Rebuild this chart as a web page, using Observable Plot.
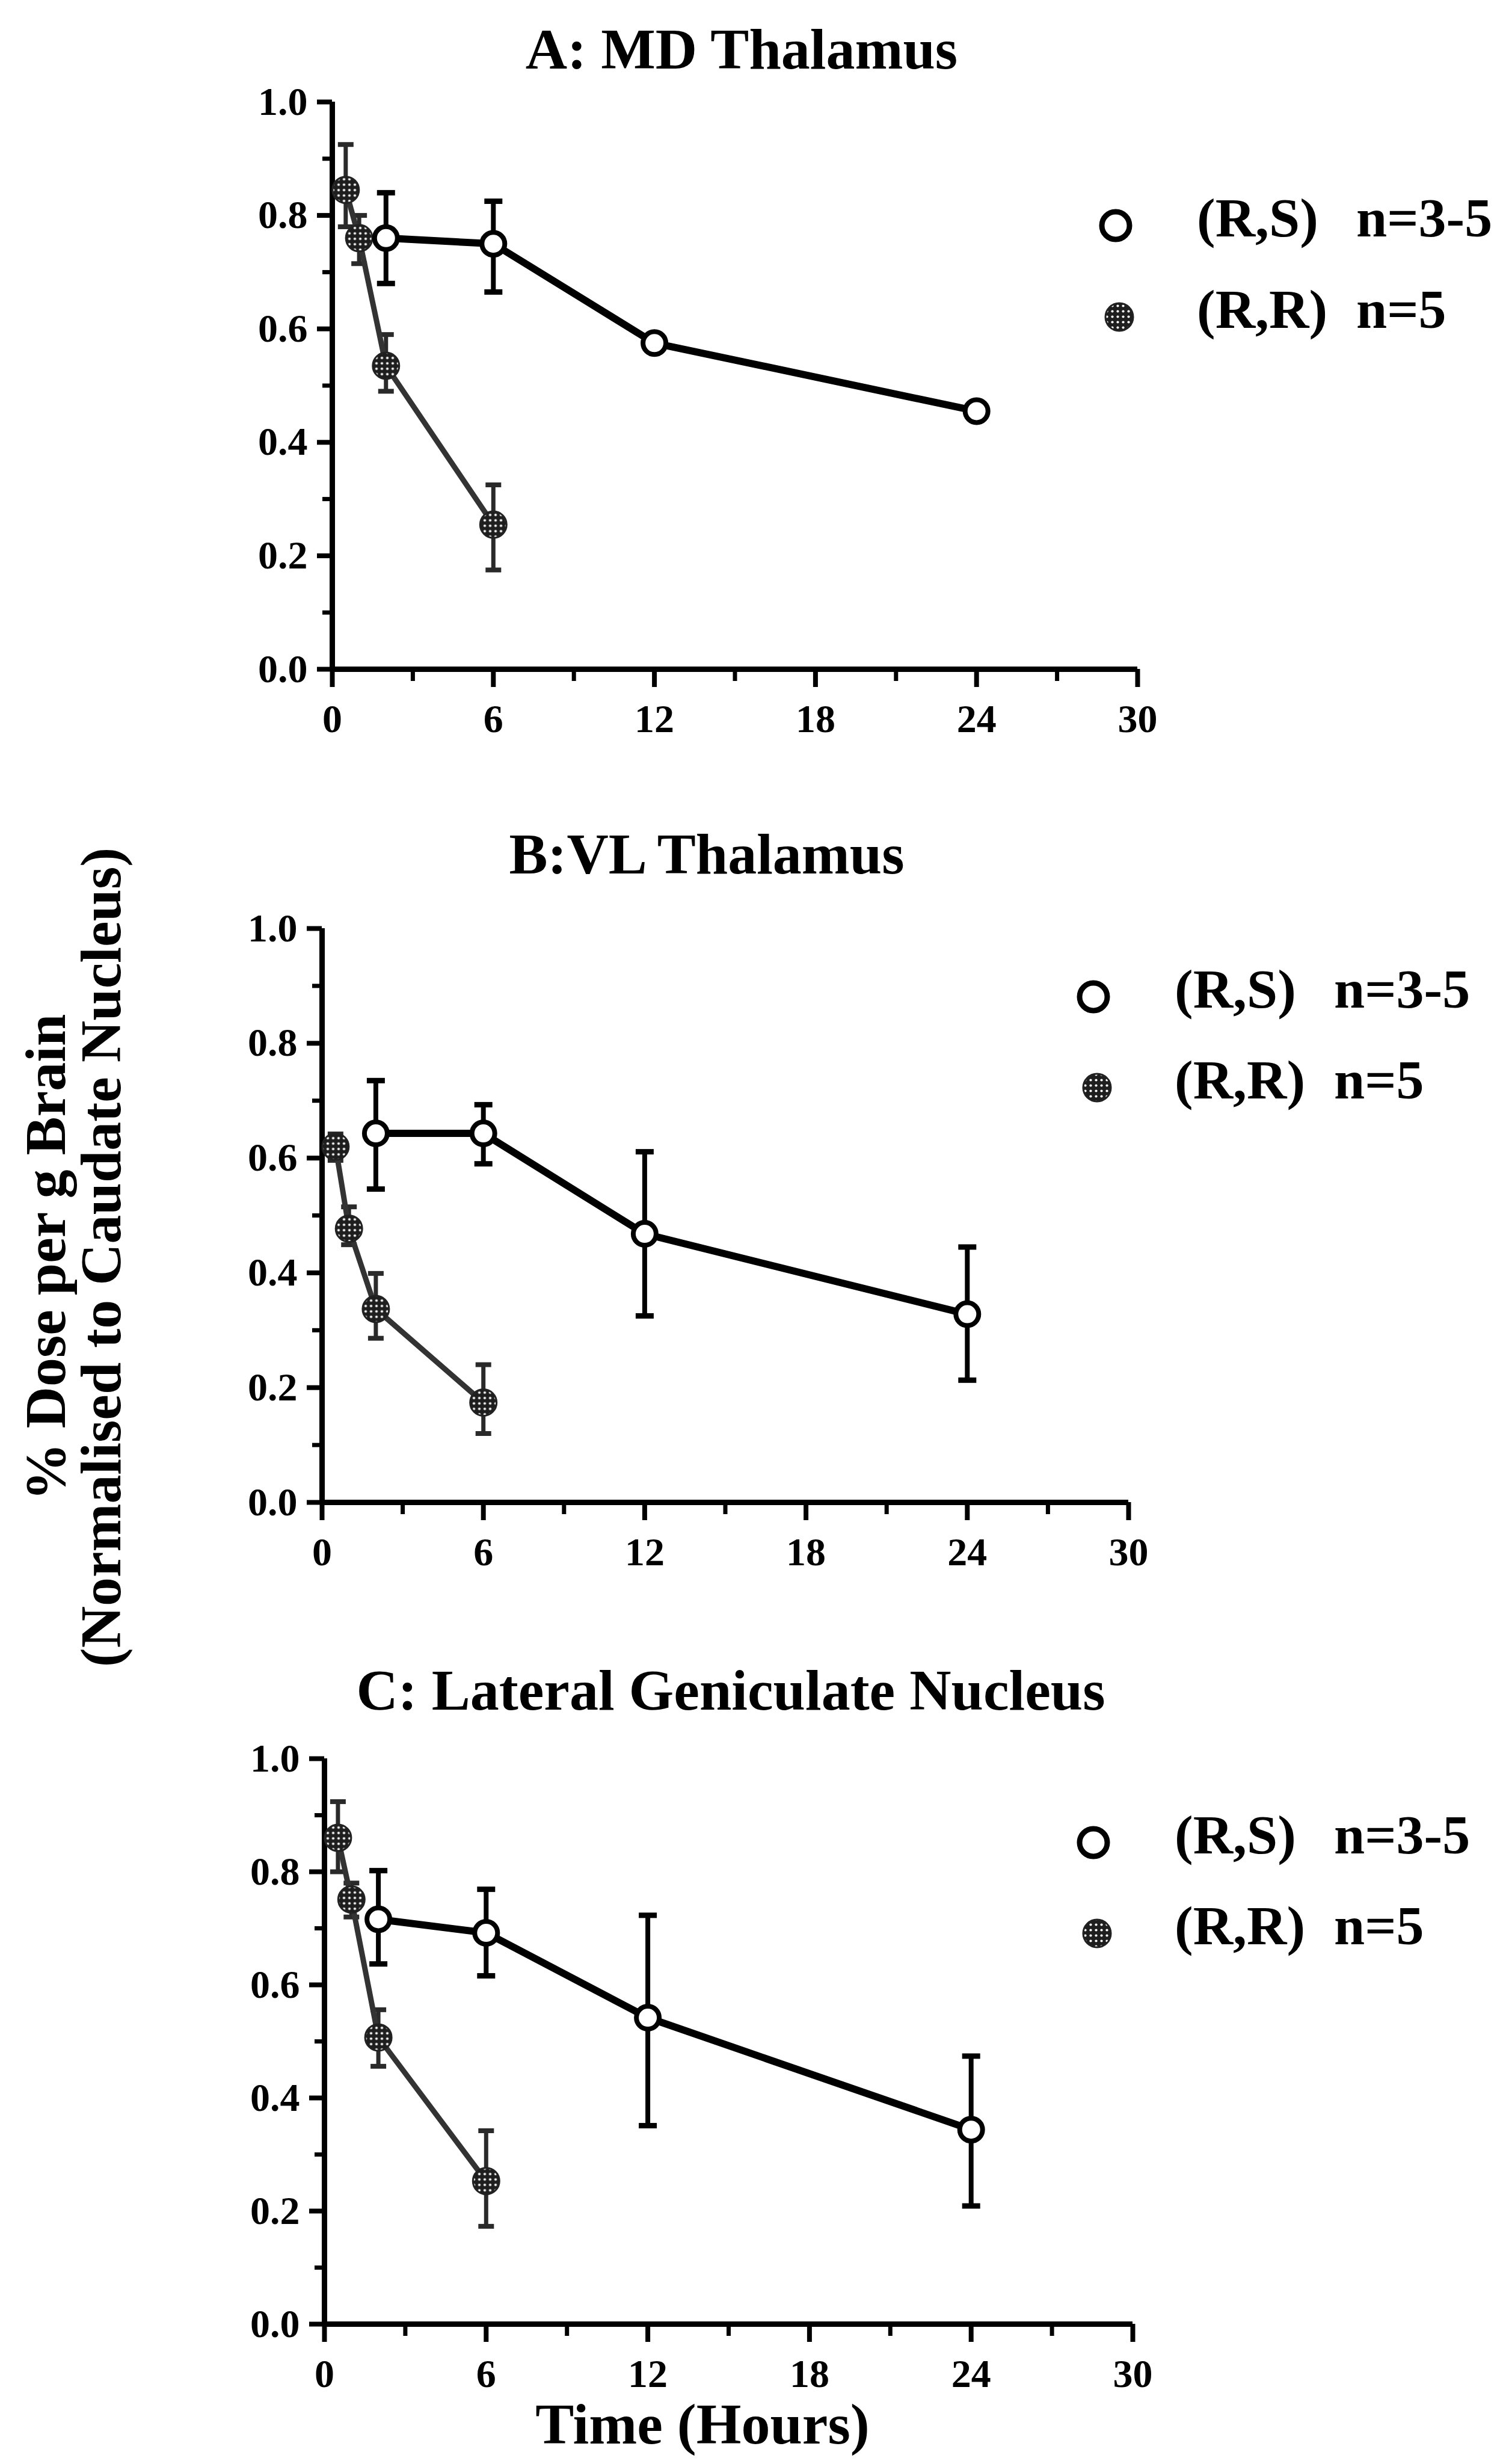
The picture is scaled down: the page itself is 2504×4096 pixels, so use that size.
<!DOCTYPE html>
<html><head><meta charset="utf-8">
<script src="https://cdn.jsdelivr.net/npm/d3@7"></script>
<script src="https://cdn.jsdelivr.net/npm/@observablehq/plot@0.6"></script>
<style>
html,body{margin:0;padding:0;background:#fff;}
#root{position:relative;width:2504px;height:4096px;overflow:hidden;background:#fff;}
#root > svg{position:absolute;left:0;margin:0;}
</style></head><body><div id="root"></div>
<script>
// ---------------- data ----------------
const hoursRS = [2, 6, 12, 24];
const hoursRR = [0.5, 1, 2, 6];

const A_RS_mean = [0.76, 0.75, 0.575, 0.455];
const A_RS_lo   = [0.68, 0.665, null, null];
const A_RS_hi   = [0.84, 0.825, null, null];
const A_RR_mean = [0.845, 0.76, 0.535, 0.255];
const A_RR_lo   = [0.78, 0.715, 0.49, 0.175];
const A_RR_hi   = [0.925, 0.80, 0.59, 0.325];

const B_RS_mean = [0.643, 0.643, 0.468, 0.328];
const B_RS_lo   = [0.546, 0.59, 0.325, 0.213];
const B_RS_hi   = [0.735, 0.693, 0.611, 0.445];
const B_RR_mean = [0.62, 0.477, 0.337, 0.174];
const B_RR_lo   = [0.596, 0.449, 0.286, 0.12];
const B_RR_hi   = [0.642, 0.515, 0.399, 0.24];

const C_RS_mean = [0.716, 0.692, 0.542, 0.344];
const C_RS_lo   = [0.637, 0.616, 0.351, 0.209];
const C_RS_hi   = [0.802, 0.769, 0.723, 0.474];
const C_RR_mean = [0.86, 0.751, 0.507, 0.253];
const C_RR_lo   = [0.80, 0.72, 0.456, 0.173];
const C_RR_hi   = [0.924, 0.78, 0.556, 0.342];

const panelTitles = ["A: MD Thalamus", "B:VL Thalamus", "C: Lateral Geniculate Nucleus"];
const seriesLabels = ["(R,S)", "(R,R)"];
const seriesN = ["n=3-5", "n=5"];
const xTicks = [0, 6, 12, 18, 24, 30];
const xMinorTicks = [3, 9, 15, 21, 27];
const yTicks = [0, 0.2, 0.4, 0.6, 0.8, 1.0];
const yMinorTicks = [0.1, 0.3, 0.5, 0.7, 0.9];
const xLabel = "Time (Hours)";
const yLabel1 = "% Dose per g Brain";
const yLabel2 = "(Normalised to Caudate Nucleus)";

// ---------------- layout ----------------
const FONT = '"Liberation Serif", "Times New Roman", serif';
const W = 2504, H = 4096;
const layouts = [
  {top: 140, mt: 29, mb: 150, plotH: 943, left: 552, right: 2504 - 1891,
   title: {x: 1233, y: 114}, leg: {x: 1855, y1: 375, y2: 527}},
  {top: 1500, mt: 43, mb: 150, plotH: 954, left: 535, right: 2504 - 1876,
   title: {x: 1175, y: 1452}, leg: {x: 1818, y1: 1657, y2: 1808}},
  {top: 2880, mt: 43, mb: 150, plotH: 940, left: 539, right: 2504 - 1883,
   title: {x: 1215, y: 2842}, leg: {x: 1818, y1: 3063, y2: 3214}}
];
const panelData = [
  {rs: [A_RS_mean, A_RS_lo, A_RS_hi], rr: [A_RR_mean, A_RR_lo, A_RR_hi]},
  {rs: [B_RS_mean, B_RS_lo, B_RS_hi], rr: [B_RR_mean, B_RR_lo, B_RR_hi]},
  {rs: [C_RS_mean, C_RS_lo, C_RS_hi], rr: [C_RR_mean, C_RR_lo, C_RR_hi]}
];

const root = document.getElementById("root");

// overlay svg (defs, titles, legends, axis labels)
const overlay = d3.create("svg").attr("width", W).attr("height", H)
  .style("position", "absolute").style("left", "0px").style("top", "0px")
  .style("font-family", FONT).style("font-weight", "bold");
const pat = overlay.append("defs").append("pattern").attr("id", "halftone")
  .attr("width", 9).attr("height", 9).attr("patternUnits", "userSpaceOnUse");
pat.append("rect").attr("width", 9).attr("height", 9).attr("fill", "#1e1e1e");
pat.append("circle").attr("cx", 4.5).attr("cy", 4.5).attr("r", 2.1).attr("fill", "#fff");

const capSymbol = {
  draw(ctx, size) {
    const r = Math.sqrt(size / Math.PI);
    ctx.moveTo(-r, 0); ctx.lineTo(r, 0);
  }
};

function rows(times, arr) {
  return times.map((t, i) => ({t, m: arr[0][i], lo: arr[1][i], hi: arr[2][i]}));
}

panelData.forEach((p, k) => {
  const L = layouts[k];
  const rs = rows(hoursRS, p.rs);
  const rr = rows(hoursRR, p.rr);
  const rsErr = rs.filter(d => d.lo != null);
  const rrErr = rr.filter(d => d.lo != null);
  const chart = Plot.plot({
    width: W,
    height: L.mt + L.plotH + L.mb,
    marginLeft: L.left, marginRight: L.right, marginTop: L.mt, marginBottom: L.mb,
    x: {domain: [0, 30]},
    y: {domain: [0, 1]},
    style: {fontFamily: FONT, fontSize: "66px", fontWeight: "bold", background: "transparent", color: "#000", overflow: "visible"},
    marks: [
      Plot.axisX(xMinorTicks, {tickSize: 20, tickFormat: () => "", strokeWidth: 7, label: null}),
      Plot.axisX(xTicks, {tickSize: 30, tickPadding: 28, strokeWidth: 8, label: null, tickFormat: d => String(d)}),
      Plot.axisY(yMinorTicks, {tickSize: 16, tickFormat: () => "", strokeWidth: 7, label: null}),
      Plot.axisY(yTicks, {tickSize: 25, tickPadding: 16, strokeWidth: 8, label: null, tickFormat: d3.format(".1f")}),
      Plot.ruleX([0], {strokeWidth: 9}),
      Plot.ruleY([0], {strokeWidth: 9}),
      // (R,R) series
      Plot.ruleX(rrErr, {x: "t", y1: "lo", y2: "hi", stroke: "#2a2a2a", strokeWidth: 7}),
      Plot.dot(rrErr, {x: "t", y: "hi", symbol: capSymbol, r: 13, fill: "none", stroke: "#2a2a2a", strokeWidth: 8}),
      Plot.dot(rrErr, {x: "t", y: "lo", symbol: capSymbol, r: 13, fill: "none", stroke: "#2a2a2a", strokeWidth: 8}),
      Plot.line(rr, {x: "t", y: "m", stroke: "#333", strokeWidth: 9}),
      Plot.dot(rr, {x: "t", y: "m", r: 22, fill: "url(#halftone)", stroke: "#222", strokeWidth: 3}),
      // (R,S) series
      Plot.ruleX(rsErr, {x: "t", y1: "lo", y2: "hi", stroke: "#000", strokeWidth: 8}),
      Plot.dot(rsErr, {x: "t", y: "hi", symbol: capSymbol, r: 15, fill: "none", stroke: "#000", strokeWidth: 9}),
      Plot.dot(rsErr, {x: "t", y: "lo", symbol: capSymbol, r: 15, fill: "none", stroke: "#000", strokeWidth: 9}),
      Plot.line(rs, {x: "t", y: "m", stroke: "#000", strokeWidth: 12}),
      Plot.dot(rs, {x: "t", y: "m", r: 19, fill: "#fff", stroke: "#000", strokeWidth: 8})
    ]
  });
  chart.style.top = L.top + "px";
  root.appendChild(chart);

  // title
  overlay.append("text").attr("x", L.title.x).attr("y", L.title.y)
    .attr("text-anchor", "middle").attr("font-size", 96).text(panelTitles[k]);
  // legend
  const g = overlay.append("g").attr("font-size", 92);
  g.append("circle").attr("cx", L.leg.x).attr("cy", L.leg.y1).attr("r", 23)
    .attr("fill", "#fff").attr("stroke", "#000").attr("stroke-width", 9);
  g.append("text").attr("x", L.leg.x + 135).attr("y", L.leg.y1 + 18).text(seriesLabels[0]);
  g.append("text").attr("x", L.leg.x + 400).attr("y", L.leg.y1 + 18).text(seriesN[0]);
  g.append("circle").attr("cx", L.leg.x + 6).attr("cy", L.leg.y2).attr("r", 23)
    .attr("fill", "url(#halftone)").attr("stroke", "#222").attr("stroke-width", 3);
  g.append("text").attr("x", L.leg.x + 135).attr("y", L.leg.y2 + 18).text(seriesLabels[1]);
  g.append("text").attr("x", L.leg.x + 400).attr("y", L.leg.y2 + 18).text(seriesN[1]);
});

// axis labels
overlay.append("text").attr("x", 1168).attr("y", 4062).attr("text-anchor", "middle")
  .attr("font-size", 96).text(xLabel);
overlay.append("text").attr("transform", "translate(108,2090) rotate(-90)")
  .attr("text-anchor", "middle").attr("font-size", 96).text(yLabel1);
overlay.append("text").attr("transform", "translate(200,2090) rotate(-90)")
  .attr("text-anchor", "middle").attr("font-size", 96).text(yLabel2);

root.appendChild(overlay.node());
</script>
</body></html>
